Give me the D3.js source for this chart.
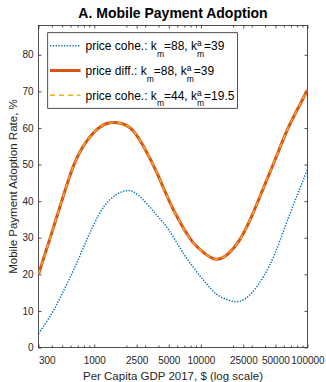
<!DOCTYPE html>
<html><head><meta charset="utf-8">
<script src="https://cdn.jsdelivr.net/npm/d3@7"></script>
<style>
html,body{margin:0;padding:0;background:#fff;}
svg{display:block;font-family:"Liberation Sans",Arial,Helvetica,sans-serif;}
</style></head><body>
<svg id="chart" width="326" height="382"></svg>
<script>
// Per capita GDP sample points (US$, 2017) and adoption rates (%)
const gdp    = [300, 400, 500, 650, 850, 1100, 1400, 1800, 2300, 3000, 3900, 5000,
                6500, 8500, 11000, 14000, 18000, 23000, 30000, 39000, 50000, 65000, 85000, 100000];
const cohe88 = [3.8, 9.3, 14.7, 21.6, 29.4, 36.2, 40.4, 42.5, 42.6, 39.8, 36.0, 32.1,
                26.8, 21.9, 17.8, 14.6, 13.0, 12.6, 14.9, 19.6, 26.0, 34.8, 43.5, 48.7];
const diff88 = [20.0, 31.4, 40.4, 50.2, 56.4, 60.0, 61.4, 61.2, 59.3, 54.2, 47.5, 40.3,
                33.8, 28.6, 25.6, 24.1, 25.6, 29.3, 35.9, 43.9, 51.5, 59.6, 66.4, 70.4];
const cohe44 = [20.0, 31.4, 40.4, 50.2, 56.4, 60.0, 61.4, 61.2, 59.3, 54.2, 47.5, 40.3,
                33.8, 28.6, 25.6, 24.1, 25.6, 29.3, 35.9, 43.9, 51.5, 59.6, 66.4, 70.4];

// Legend entries
const seriesNames = ["price cohe.", "price diff.", "price cohe."];
const kM  = [88, 88, 44];
const kMa = [39, 39, 19.5];

// Axis ticks
const yTicks = [0, 10, 20, 30, 40, 50, 60, 70, 80];
const xTicks = [300, 1000, 2500, 5000, 10000, 25000, 50000, 100000];
const xMinorTicks = [400, 500, 600, 700, 800, 900, 2000, 3000, 4000, 6000, 7000, 8000, 9000,
                     20000, 30000, 40000, 60000, 70000, 80000, 90000];

const svg = d3.select("#chart");
const W = 326, H = 382;
const m = {left: 38.5, right: 18.5, top: 25.5, bottom: 34.5};
const axisColor = "#262626";

const x = d3.scaleLog().domain([300, 100000]).range([m.left, W - m.right]);
const y = d3.scaleLinear().domain([0, 88]).range([H - m.bottom, m.top]);

// Title
svg.append("text")
  .attr("x", (m.left + W - m.right) / 2).attr("y", 18.3)
  .attr("text-anchor", "middle")
  .style("font-size", "14px").style("font-weight", "bold").style("fill", "#000")
  .text("A. Mobile Payment Adoption");

// Clip for the plotting area
svg.append("defs").append("clipPath").attr("id", "plotClip")
  .append("rect").attr("x", m.left).attr("y", m.top)
  .attr("width", W - m.right - m.left).attr("height", H - m.bottom - m.top);

function styleAxis(g) {
  g.select(".domain").remove();
  g.selectAll(".tick line").attr("stroke", axisColor).attr("stroke-width", 0.8);
  g.selectAll(".tick text").attr("fill", axisColor).style("font-size", "10px")
    .style("font-family", "'Liberation Sans',Arial,sans-serif");
}

// Bottom axis with labels
const gx = svg.append("g").attr("transform", `translate(0,${H - m.bottom})`)
  .call(d3.axisBottom(x).tickValues(xTicks).tickFormat(d3.format("d"))
    .tickSizeInner(-3).tickSizeOuter(0).tickPadding(9.5))
  .call(styleAxis);
gx.select(".tick text").attr("text-anchor", "start");
svg.append("g").attr("transform", `translate(0,${H - m.bottom})`)
  .call(d3.axisBottom(x).tickValues(xMinorTicks).tickFormat("").tickSizeInner(-2).tickSizeOuter(0))
  .call(styleAxis);
// Top mirror ticks
svg.append("g").attr("transform", `translate(0,${m.top})`)
  .call(d3.axisTop(x).tickValues(xTicks).tickFormat("").tickSizeInner(-3).tickSizeOuter(0))
  .call(styleAxis);
svg.append("g").attr("transform", `translate(0,${m.top})`)
  .call(d3.axisTop(x).tickValues(xMinorTicks).tickFormat("").tickSizeInner(-2).tickSizeOuter(0))
  .call(styleAxis);

// Left axis with labels, right mirror ticks
svg.append("g").attr("transform", `translate(${m.left},0)`)
  .call(d3.axisLeft(y).tickValues(yTicks).tickSizeInner(-3).tickSizeOuter(0).tickPadding(5))
  .call(styleAxis);
svg.append("g").attr("transform", `translate(${W - m.right},0)`)
  .call(d3.axisRight(y).tickValues(yTicks).tickFormat("").tickSizeInner(-3).tickSizeOuter(0))
  .call(styleAxis);

// Axes box
svg.append("rect")
  .attr("x", m.left).attr("y", m.top)
  .attr("width", W - m.right - m.left).attr("height", H - m.bottom - m.top)
  .attr("fill", "none").attr("stroke", axisColor).attr("stroke-width", 0.8);

// Axis labels
svg.append("text")
  .attr("x", (m.left + W - m.right) / 2).attr("y", 379.5)
  .attr("text-anchor", "middle").style("font-size", "11.5px").style("fill", axisColor)
  .text("Per Capita GDP 2017, $ (log scale)");
svg.append("text")
  .attr("transform", `translate(16.5,${(m.top + H - m.bottom) / 2}) rotate(-90)`)
  .attr("text-anchor", "middle").style("font-size", "11.5px").style("fill", axisColor)
  .text("Mobile Payment Adoption Rate, %");

// Curves
const line = (vals) => d3.line()
  .x((d, i) => x(gdp[i])).y(d => y(d))
  .curve(d3.curveNatural)(vals);

const series = [
  {vals: cohe88, color: "#0072BD", width: 1.5, dash: "1.3,1.5"},
  {vals: diff88, color: "#D95319", width: 3,   dash: null},
  {vals: cohe44, color: "#EDB120", width: 1.4, dash: "5,4"}
];

const plot = svg.append("g").attr("clip-path", "url(#plotClip)");
series.forEach(s => {
  plot.append("path")
    .attr("d", line(s.vals))
    .attr("fill", "none")
    .attr("stroke", s.color)
    .attr("stroke-width", s.width)
    .attr("stroke-dasharray", s.dash)
    .attr("stroke-linejoin", "round");
});

// Legend
const lg = svg.append("g");
const legBox = lg.append("rect").attr("fill", "#fff").attr("stroke", axisColor).attr("stroke-width", 0.8);
const legX = 47.7, legY = 32.7, rowH = 24.8, firstBase = 50;
const textX = 85.5;
let maxRight = 0;

function addPiece(g, str, px, py, size) {
  const t = g.append("text").attr("x", px).attr("y", py)
    .style("font-size", size + "px").style("fill", "#000").text(str);
  return t.node().getComputedTextLength();
}

seriesNames.forEach((name, i) => {
  const base = firstBase + i * rowH;
  const s = series[i];
  lg.append("line")
    .attr("x1", 50).attr("x2", 80.5)
    .attr("y1", base - 4.3).attr("y2", base - 4.3)
    .attr("stroke", s.color).attr("stroke-width", s.width)
    .attr("stroke-dasharray", s.dash);
  let cx = textX;
  cx += addPiece(lg, `${name}: k`, cx, base, 12);
  cx += addPiece(lg, "m", cx, base + 6.8, 8.5);
  cx += addPiece(lg, `=${kM[i]}, k`, cx, base, 12);
  const wa = addPiece(lg, "a", cx, base - 3.6, 8.5);
  const wm = addPiece(lg, "m", cx, base + 6.8, 8.5);
  cx += Math.max(wa, wm);
  cx += addPiece(lg, `=${kMa[i]}`, cx, base, 12);
  maxRight = Math.max(maxRight, cx);
});
legBox.attr("x", legX).attr("y", legY)
  .attr("width", maxRight + 3 - legX).attr("height", 108.3 - legY);
</script>
</body></html>
